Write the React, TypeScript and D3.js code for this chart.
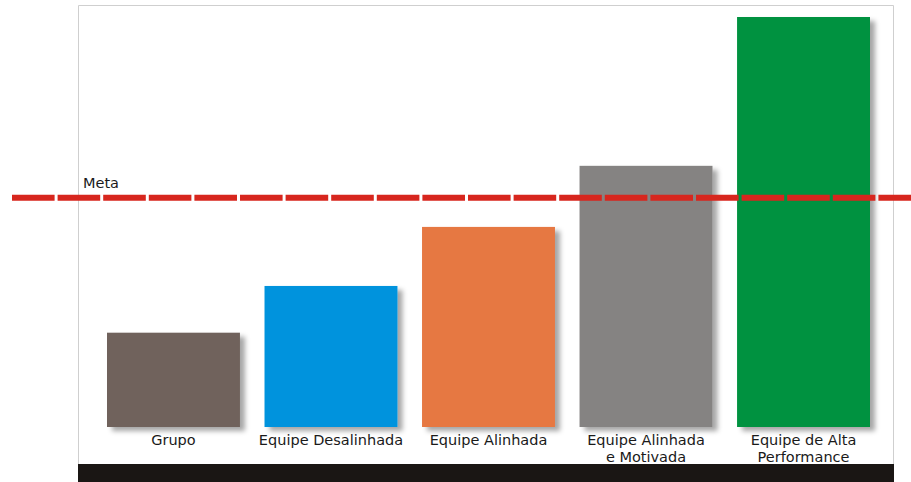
import React, { useEffect, useRef } from "react";
import * as d3 from "d3";

const categories = [
  ["Grupo"],
  ["Equipe Desalinhada"],
  ["Equipe Alinhada"],
  ["Equipe Alinhada", "e Motivada"],
  ["Equipe de Alta", "Performance"],
];
const values = [23, 34.4, 48.8, 63.7, 100];
const colors = ["#6f625b", "#0093dd", "#e67843", "#858382", "#009240"];
const metaValue = 55.9;
const metaLabel = "Meta";

const App: React.FC = () => {
  const svgRef = useRef<SVGSVGElement | null>(null);

  useEffect(() => {
    if (!svgRef.current) return;
    const svg = d3.select(svgRef.current);
    svg.selectAll("*").remove();

    const width = 911;
    const height = 482;
    const frame = { left: 78, right: 893, top: 5, bottom: 464 };
    const font = "'DejaVu Sans', sans-serif";

    const x = d3
      .scaleBand<number>()
      .domain(d3.range(values.length))
      .range([107, 870])
      .paddingInner(0.156)
      .paddingOuter(0);
    const y = d3.scaleLinear().domain([0, 100]).range([427, 17]);

    const defs = svg.append("defs");
    const filter = defs
      .append("filter")
      .attr("id", "shadow")
      .attr("x", "-10%")
      .attr("y", "-10%")
      .attr("width", "130%")
      .attr("height", "130%");
    filter
      .append("feDropShadow")
      .attr("dx", 5)
      .attr("dy", 4)
      .attr("stdDeviation", 2.5)
      .attr("flood-color", "#000")
      .attr("flood-opacity", 0.35);

    svg.append("rect").attr("width", width).attr("height", height).attr("fill", "#fff");

    // frame
    svg
      .append("path")
      .attr(
        "d",
        `M${frame.left + 0.5},${frame.bottom} V${frame.top + 0.5} H${frame.right + 0.5} V${frame.bottom}`
      )
      .attr("fill", "none")
      .attr("stroke", "#cfcfcf")
      .attr("stroke-width", 1);

    // bottom black band
    svg
      .append("rect")
      .attr("x", frame.left)
      .attr("y", frame.bottom)
      .attr("width", frame.right - frame.left + 1)
      .attr("height", height - frame.bottom)
      .attr("fill", "#1a1614");

    // bars
    svg
      .append("g")
      .selectAll("rect")
      .data(values)
      .join("rect")
      .attr("x", (_, i) => x(i)!)
      .attr("y", (d) => y(d))
      .attr("width", x.bandwidth())
      .attr("height", (d) => y(0) - y(d))
      .attr("fill", (_, i) => colors[i])
      .attr("filter", "url(#shadow)");

    // category labels, one text per line
    const labelG = svg.append("g");
    categories.forEach((lines, i) => {
      lines.forEach((line, j) => {
        labelG
          .append("text")
          .attr("x", x(i)! + x.bandwidth() / 2)
          .attr("y", 445 + j * 17)
          .attr("text-anchor", "middle")
          .attr("font-family", font)
          .attr("font-size", 14.5)
          .attr("fill", "#1a1a1a")
          .text(line);
      });
    });

    // meta line
    svg
      .append("line")
      .attr("x1", 12)
      .attr("x2", width)
      .attr("y1", y(metaValue))
      .attr("y2", y(metaValue))
      .attr("stroke", "#d7261e")
      .attr("stroke-width", 6)
      .attr("stroke-dasharray", "42.6 3");

    svg
      .append("text")
      .attr("x", 83)
      .attr("y", y(metaValue) - 10)
      .attr("font-family", font)
      .attr("font-size", 14.5)
      .attr("fill", "#1a1a1a")
      .text(metaLabel);
  }, []);

  return (
    <div style={{ position: "fixed", left: 0, top: 0 }}>
      <svg ref={svgRef} width={911} height={482} style={{ display: "block" }}></svg>
    </div>
  );
};

export default App;
